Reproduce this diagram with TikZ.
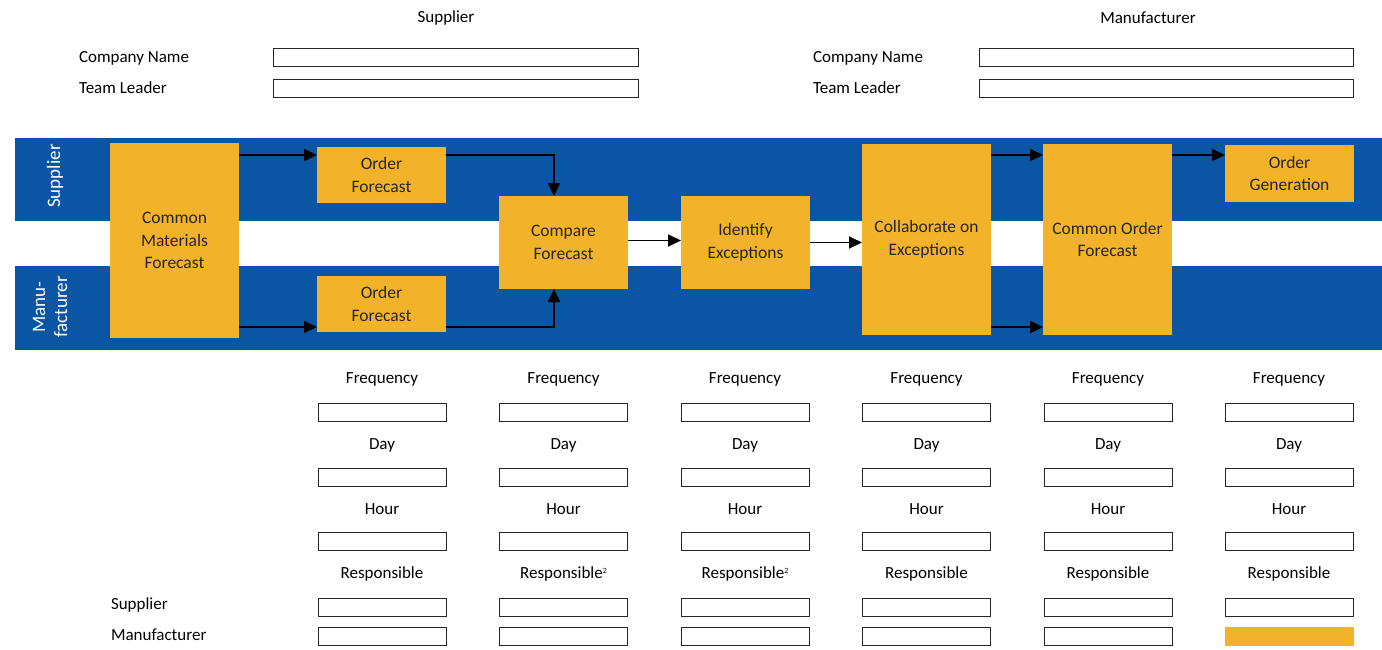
\documentclass[tikz,border=0pt]{standalone}
\usepackage{fontspec}
\setmainfont{Carlito}
\usetikzlibrary{arrows.meta}
\definecolor{laneblue}{HTML}{0B56A4}
\definecolor{procorange}{HTML}{F2B32A}
\newcommand{\smallsup}[1]{\raisebox{5pt}{\fontsize{8}{8}\selectfont #1}}
\begin{document}
\begin{tikzpicture}[x=1pt,y=-1pt,
  every node/.style={font=\fontsize{17}{22}\selectfont, inner sep=0pt, outer sep=0pt},
  proc/.style={fill=procorange, minimum width=129pt, align=center, text=black!85,
    font=\fontsize{17.5}{22.5}\selectfont},
  field/.style={draw=black!85, line width=1pt, fill=white, minimum height=18pt},
  lab/.style={anchor=center},
  arr/.style={line width=1.8pt, -{Triangle[length=13pt,width=12pt]}},
  lane/.style={fill=laneblue},
  lanetext/.style={text=white, rotate=90, align=center, font=\fontsize{19}{22}\selectfont}]
\useasboundingbox (0,0) rectangle (1382,649);

% header
\node[lab] (hs) at (446,18) {Supplier};
\node[lab] (hm) at (1148,18) {Manufacturer};
\node[anchor=west] (cn1) at (79,58) {Company Name};
\node[anchor=west] (tl1) at (79,88) {Team Leader};
\node[anchor=west] (cn2) at (813,58) {Company Name};
\node[anchor=west] (tl2) at (813,88) {Team Leader};
\node[field, minimum width=365pt] (cnf1) at (455.5,57.5) {};
\node[field, minimum width=365pt] (tlf1) at (455.5,88) {};
\node[field, minimum width=374pt] (cnf2) at (1166,57.5) {};
\node[field, minimum width=374pt] (tlf2) at (1166,88) {};

% swim lanes
\fill[lane] (15,138) rectangle (1382,221);
\fill[lane] (15,266) rectangle (1382,350);
\node[lanetext] (ls) at (55,176) {Supplier};
\node[lanetext] (lm) at (50,307) {Manu-\\facturer};

% process steps
\node[proc, minimum height=195pt] (cmf) at (174.5,240.5) {Common\\Materials\\Forecast};
\node[proc, minimum height=56pt] (of1) at (381.5,175) {Order\\Forecast};
\node[proc, minimum height=56pt] (of2) at (381.5,304) {Order\\Forecast};
\node[proc, minimum height=93pt] (cmp) at (563.5,242.5) {Compare\\Forecast};
\node[proc, minimum height=93pt] (idx) at (745.5,242.5) {Identify\\Exceptions};
\node[proc, minimum height=191pt] (col) at (926.5,239.5) {Collaborate on\\Exceptions};
\node[proc, minimum height=191pt] (cof) at (1107.5,239.5) {Common Order\\Forecast};
\node[proc, minimum height=57pt] (og) at (1289.5,173.5) {Order\\Generation};

% connector levels
\coordinate (top) at (0,155);
\coordinate (bot) at (0,327);

\draw[arr] (cmf.east |- top) -- (of1.west |- top);
\draw[arr] (cmf.east |- bot) -- (of2.west |- bot);
\draw[arr] (of1.east |- top) -| ([xshift=-9.5pt]cmp.north);
\draw[arr] (of2.east |- bot) -| ([xshift=-9.5pt]cmp.south);
\draw[arr] ([yshift=2pt]cmp.east) -- ([yshift=2pt]idx.west);
\draw[arr] (idx.east) -- (col.west |- idx.east);
\draw[arr] (col.east |- top) -- (cof.west |- top);
\draw[arr] (col.east |- bot) -- (cof.west |- bot);
\draw[arr] (cof.east |- top) -- (og.west |- top);

% schedule form
\node[anchor=west] (rs) at (111,605) {Supplier};
\node[anchor=west] (rm) at (111,635) {Manufacturer};
\foreach \i/\x/\resp in {1/382/Responsible, 2/563.5/Responsible\smallsup{2}, 3/745/Responsible\smallsup{2}, 4/926.5/Responsible, 5/1108/Responsible, 6/1289/Responsible}{
  \node[lab] (fq\i) at (\x,379) {Frequency};
  \node[field, minimum width=128pt] (fqf\i) at (\x,412) {};
  \node[lab] (dy\i) at (\x,445) {Day};
  \node[field, minimum width=128pt] (dyf\i) at (\x,477) {};
  \node[lab] (hr\i) at (\x,509) {Hour};
  \node[field, minimum width=128pt] (hrf\i) at (\x,541.5) {};
  \node[lab] (rp\i) at (\x,574) {\resp};
  \node[field, minimum width=128pt] (rsf\i) at (\x,607) {};
}
\foreach \i/\x in {1/382,2/563.5,3/745,4/926.5,5/1108}{
  \node[field, minimum width=128pt] (rmf\i) at (\x,636) {};
}
\node[fill=procorange, minimum width=129pt, minimum height=19pt] (rmf6) at (1289.5,636) {};
\end{tikzpicture}
\end{document}
